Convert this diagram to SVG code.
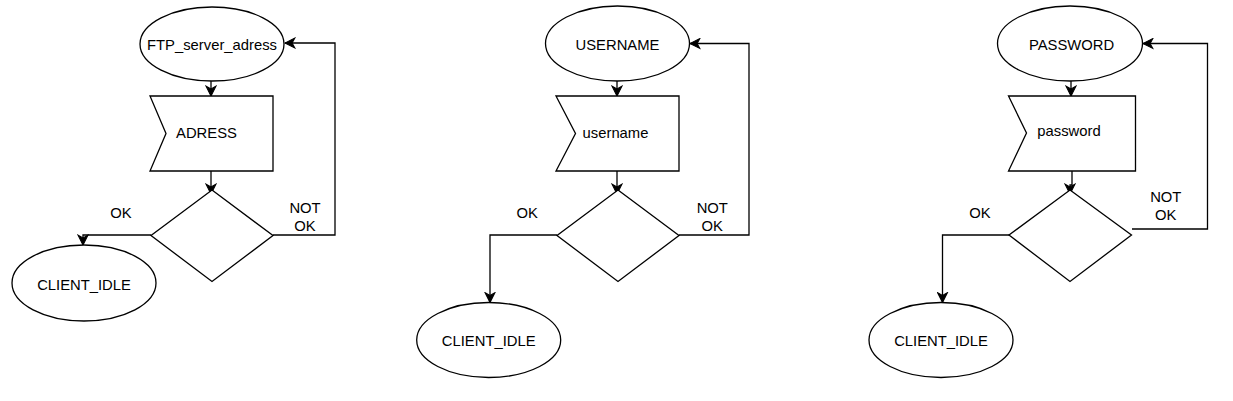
<svg xmlns="http://www.w3.org/2000/svg" width="1233" height="401" viewBox="0 0 1233 401">
<style>
.shape{fill:#fff;stroke:#000;stroke-width:1.3}
.conn{fill:none;stroke:#000;stroke-width:1.3;marker-end:url(#arrow)}
text{font-family:"Liberation Sans",Arial,sans-serif;font-size:14.8px;fill:#000;text-anchor:middle}
</style>
<defs>
<marker id="arrow" markerUnits="userSpaceOnUse" markerWidth="12" markerHeight="12" viewBox="-10 -5 11 10" refX="0" refY="0" orient="auto">
<path d="M0,0 L-9,-4.5 L-6.5,0 L-9,4.5 Z" fill="#000" stroke="#000" stroke-width="1"/>
</marker>
</defs>
<rect width="1233" height="401" fill="#fff"/>
<g id="connectors">
<path class="conn" d="M211,81 L211,96"/>
<path class="conn" d="M211,171 L211,194"/>
<path class="conn" d="M151,235 L83,235 L83,245"/>
<path class="conn" d="M273,235 L335,235 L335,43 L285,43"/>
<path class="conn" d="M617,81 L617,96"/>
<path class="conn" d="M617,171 L617,194"/>
<path class="conn" d="M557,235 L490,235 L490,302.5"/>
<path class="conn" d="M679,235 L749,235 L749,43.5 L690,43.5"/>
<path class="conn" d="M1071,81 L1071,96"/>
<path class="conn" d="M1072,171 L1072,185 L1070,185 L1070,194"/>
<path class="conn" d="M1009,235 L942.5,235 L942.5,302.5"/>
<path class="conn" d="M1132,229 L1207.5,229 L1207.5,43.5 L1143,43.5"/>
</g>
<g id="ftp_server_adress">
<ellipse class="shape" cx="212" cy="44" rx="72" ry="37"/>
<text x="212" y="49.5">FTP_server_adress</text>
</g>
<g id="adress">
<path class="shape" d="M150,96 L273,96 L273,171 L150,171 L166,133.5 Z"/>
<text x="206.5" y="138">ADRESS</text>
</g>
<g id="decision1">
<path class="shape" d="M212,190 L273,235.5 L212,281.5 L151,235.5 Z"/>
</g>
<g id="client_idle1">
<ellipse class="shape" cx="84" cy="283" rx="72" ry="38"/>
<text x="84" y="289.5">CLIENT_IDLE</text>
</g>
<g id="labels1">
<text x="121" y="218">OK</text>
<text x="305" y="213">NOT</text>
<text x="305" y="231">OK</text>
</g>
<g id="username_state">
<ellipse class="shape" cx="617.5" cy="43.5" rx="72" ry="37.5"/>
<text x="617.5" y="50">USERNAME</text>
</g>
<g id="username">
<path class="shape" d="M556,96 L679,96 L679,171 L556,171 L575.5,133.5 Z"/>
<text x="615.5" y="138">username</text>
</g>
<g id="decision2">
<path class="shape" d="M618,190 L679,235.5 L618,281.5 L557,235.5 Z"/>
</g>
<g id="client_idle2">
<ellipse class="shape" cx="488.7" cy="340" rx="72" ry="37.5"/>
<text x="488.7" y="346">CLIENT_IDLE</text>
</g>
<g id="labels2">
<text x="527.3" y="218">OK</text>
<text x="712.3" y="213">NOT</text>
<text x="712.3" y="230.7">OK</text>
</g>
<g id="password_state">
<ellipse class="shape" cx="1070" cy="43.5" rx="72.5" ry="37.5"/>
<text x="1071.5" y="50">PASSWORD</text>
</g>
<g id="password">
<path class="shape" d="M1008.5,96 L1135.5,96 L1135.5,171 L1008.5,171 L1026.5,133 Z"/>
<text x="1069" y="135.5">password</text>
</g>
<g id="decision3">
<path class="shape" d="M1070,190 L1131.5,235 L1070,281.5 L1009,235 Z"/>
</g>
<g id="client_idle3">
<ellipse class="shape" cx="941" cy="340" rx="72" ry="37.5"/>
<text x="941" y="346">CLIENT_IDLE</text>
</g>
<g id="labels3">
<text x="980" y="218">OK</text>
<text x="1165.8" y="202.3">NOT</text>
<text x="1165.8" y="220">OK</text>
</g>
</svg>
